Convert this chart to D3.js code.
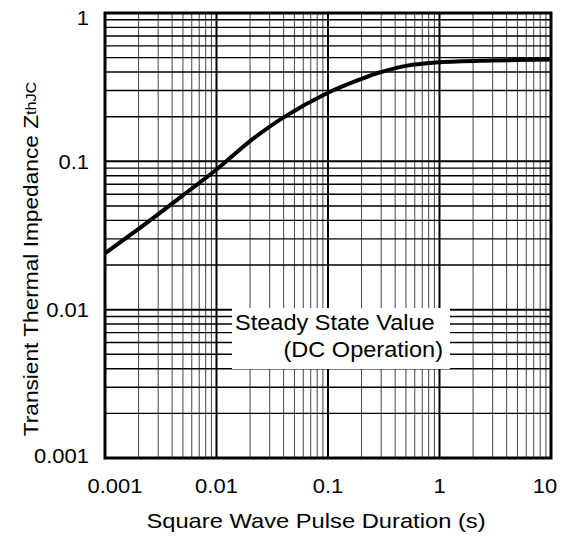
<!DOCTYPE html>
<html>
<head>
<script src="https://d3js.org/d3.v7.min.js"></script>
<style>
  body { margin: 0; background: #fff; }
  text { font-family: "Liberation Sans", Arial, sans-serif; fill: #000; }
</style>
</head>
<body>
<svg width="567" height="537"></svg>
<script>
// pulse duration (s) and Zth values
const pulse = [0.001, 0.002, 0.005, 0.01, 0.02, 0.04, 0.1, 0.2, 0.3, 0.5, 1, 3, 10];
const zth   = [0.024, 0.035, 0.059, 0.088, 0.137, 0.198, 0.29, 0.36, 0.40, 0.44, 0.465, 0.478, 0.485];
const xTicks = [0.001, 0.01, 0.1, 1, 10];
const yTicks = [0.001, 0.01, 0.1, 1];
const xTickLabels = ["0.001", "0.01", "0.1", "1", "10"];
const yTickLabels = ["0.001", "0.01", "0.1", "1"];

const plotL = 105, plotR = 551, plotT = 13, plotB = 458;
const svg = d3.select("svg");

const x = d3.scaleLog().domain([0.001, 10]).range([plotL, plotR]);
const y = d3.scaleLog().domain([0.001, 1]).range([plotB, plotT]);

// minor grid values 1..9 per decade
function gridVals(lo, hi) {
  const out = [];
  for (let e = Math.log10(lo); e < Math.log10(hi); e++)
    for (let m = 1; m < 10; m++) out.push(m * Math.pow(10, e));
  out.push(hi);
  return out;
}
const isDecade = v => Math.abs(Math.log10(v) - Math.round(Math.log10(v))) < 1e-9;

const grid = svg.append("g");
grid.selectAll(".vg").data(gridVals(0.001, 10)).join("line")
  .attr("x1", d => x(d)).attr("x2", d => x(d))
  .attr("y1", plotT).attr("y2", plotB)
  .attr("stroke", d => isDecade(d) ? "#000" : "#444")
  .attr("stroke-width", d => isDecade(d) ? 2 : 1);
grid.selectAll(".hg").data(gridVals(0.001, 1)).join("line")
  .attr("x1", plotL).attr("x2", plotR)
  .attr("y1", d => y(d)).attr("y2", d => y(d))
  .attr("stroke", "#000")
  .attr("stroke-width", d => isDecade(d) ? 2 : 1.4);

// curve
const pts = pulse.map((p, i) => [p, zth[i]]);
svg.append("path").datum(pts)
  .attr("fill", "none").attr("stroke", "#000").attr("stroke-width", 4)
  .attr("d", d3.line().x(d => x(d[0])).y(d => y(d[1])).curve(d3.curveCatmullRom.alpha(0.5)));

// note box
svg.append("rect").attr("x", 232).attr("y", 308).attr("width", 218).attr("height", 61).attr("fill", "#fff");

// frame
svg.append("rect").attr("x", plotL).attr("y", plotT).attr("width", plotR - plotL).attr("height", plotB - plotT)
  .attr("fill", "none").attr("stroke", "#000").attr("stroke-width", 3);

// text helper, glyphs stretched a bit wider like the original
function label(tx, ty, str, size, anchor, sx, rot) {
  return svg.append("text")
    .attr("transform", `translate(${tx},${ty})` + (rot ? ` rotate(${rot})` : "") + ` scale(${sx},1)`)
    .attr("text-anchor", anchor).attr("font-size", size).text(str);
}

const xShift = [10, 0, 0, 0, -6];
xTicks.forEach((t, i) => label(x(t) + xShift[i], 493, xTickLabels[i], 20, "middle", 1.1));
const yShift = [5, 7, 8, 12];
yTicks.forEach((t, i) => label(89, y(t) + yShift[i], yTickLabels[i], 20, "end", 1.1));

label(316, 528, "Square Wave Pulse Duration (s)", 21, "middle", 1.13);

const yt = label(38, 259, "Transient Thermal Impedance Z", 21, "middle", 1.08, -90);
yt.append("tspan").attr("font-size", 15).attr("dy", -2).text("thJC");

label(235, 330, "Steady State Value", 22, "start", 1.07);
label(443, 357, "(DC Operation)", 22, "end", 1.07);
</script>
</body>
</html>
